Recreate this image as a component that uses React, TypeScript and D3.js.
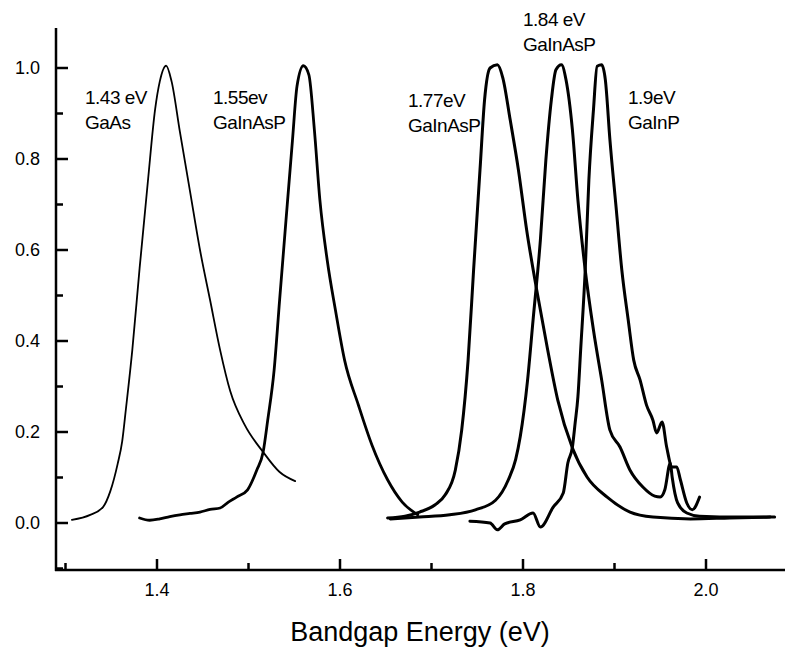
import React from "react";
import * as d3 from "d3";

// ---- Data ----
const gaasE = [1.307, 1.327, 1.341, 1.349, 1.357, 1.362, 1.366, 1.373, 1.381, 1.39, 1.398, 1.403, 1.41, 1.416, 1.425, 1.436, 1.447, 1.458, 1.469, 1.48, 1.496, 1.516, 1.534, 1.551];
const gaasI = [0.007, 0.018, 0.035, 0.07, 0.13, 0.18, 0.25, 0.38, 0.56, 0.75, 0.91, 0.97, 1.005, 0.97, 0.86, 0.73, 0.6, 0.49, 0.38, 0.29, 0.215, 0.156, 0.112, 0.092];

const g155E = [1.381, 1.392, 1.403, 1.414, 1.425, 1.436, 1.447, 1.458, 1.469, 1.478, 1.487, 1.499, 1.509, 1.516, 1.521, 1.528, 1.534, 1.541, 1.548, 1.553, 1.56, 1.566, 1.572, 1.578, 1.586, 1.595, 1.605, 1.62, 1.635, 1.652, 1.668, 1.685];
const g155I = [0.011, 0.006, 0.009, 0.014, 0.018, 0.021, 0.024, 0.03, 0.033, 0.046, 0.057, 0.073, 0.116, 0.156, 0.226, 0.336, 0.49, 0.666, 0.84, 0.96, 1.005, 0.985, 0.864, 0.71, 0.578, 0.468, 0.358, 0.26, 0.171, 0.095, 0.046, 0.018];

const g177E = [1.652, 1.671, 1.687, 1.704, 1.715, 1.726, 1.733, 1.74, 1.746, 1.753, 1.758, 1.764, 1.772, 1.778, 1.786, 1.795, 1.804, 1.815, 1.827, 1.838, 1.854, 1.87, 1.892, 1.917, 1.942, 1.983, 2.026, 2.07];
const g177I = [0.011, 0.015, 0.024, 0.04, 0.062, 0.116, 0.204, 0.358, 0.556, 0.776, 0.93, 1.0, 1.007, 0.978, 0.886, 0.776, 0.644, 0.512, 0.38, 0.27, 0.165, 0.101, 0.057, 0.024, 0.013, 0.009, 0.011, 0.013];

const g184E = [1.655, 1.687, 1.72, 1.748, 1.77, 1.784, 1.792, 1.797, 1.805, 1.811, 1.819, 1.825, 1.831, 1.836, 1.842, 1.847, 1.854, 1.86, 1.868, 1.877, 1.886, 1.895, 1.906, 1.917, 1.931, 1.944, 1.95, 1.955, 1.961, 1.963, 1.969, 1.979, 1.993, 2.037, 2.075];
const g184I = [0.009, 0.013, 0.018, 0.029, 0.05, 0.095, 0.14, 0.19, 0.314, 0.446, 0.622, 0.798, 0.93, 0.996, 1.007, 0.974, 0.864, 0.71, 0.556, 0.424, 0.314, 0.204, 0.167, 0.116, 0.079, 0.059, 0.057, 0.073, 0.132, 0.101, 0.044, 0.022, 0.015, 0.013, 0.013];

const g190E = [1.742, 1.764, 1.772, 1.78, 1.797, 1.811, 1.819, 1.833, 1.844, 1.849, 1.854, 1.857, 1.86, 1.863, 1.868, 1.872, 1.877, 1.881, 1.886, 1.89, 1.895, 1.902, 1.908, 1.915, 1.921, 1.928, 1.935, 1.942, 1.946, 1.952, 1.957, 1.963, 1.968, 1.972, 1.979, 1.985, 1.993];
const g190I = [0.004, 0.0, -0.015, -0.002, 0.007, 0.022, -0.009, 0.035, 0.066, 0.132, 0.167, 0.22, 0.277, 0.38, 0.556, 0.754, 0.908, 1.004, 1.007, 0.974, 0.842, 0.688, 0.556, 0.446, 0.358, 0.314, 0.259, 0.226, 0.198, 0.222, 0.167, 0.123, 0.123, 0.095, 0.044, 0.029, 0.057];

const xMajorTicks = [1.4, 1.6, 1.8, 2.0];
const xMinorTicks = [1.3, 1.5, 1.7, 1.9];
const yMajorTicks = [0.0, 0.2, 0.4, 0.6, 0.8, 1.0];
const yMinorTicks = [-0.1, 0.1, 0.3, 0.5, 0.7, 0.9];

const annotations = [
  { e: "1.43 eV", m: "GaAs" },
  { e: "1.55ev", m: "GaInAsP" },
  { e: "1.77eV", m: "GaInAsP" },
  { e: "1.84 eV", m: "GaInAsP" },
  { e: "1.9eV", m: "GaInP" },
];
const annotationPos = [
  [85, 104],
  [213, 104],
  [408, 107],
  [523, 26],
  [628, 104],
];

const xTitle = "Bandgap Energy (eV)";

export default function App() {
  const W = 791, H = 650;
  const x = d3.scaleLinear().domain([1.4, 2.0]).range([157, 706]);
  const y = d3.scaleLinear().domain([0, 1]).range([523, 68]);
  const axisX = 56;
  const axisY = 570;
  const font = "'Liberation Sans', Arial, Helvetica, sans-serif";

  const line = d3.line<[number, number]>().x(d => x(d[0])).y(d => y(d[1])).curve(d3.curveMonotoneX);
  const mk = (E: number[], I: number[]) => line(E.map((e, i) => [e, I[i]] as [number, number])) || "";

  const series = [
    { d: mk(gaasE, gaasI), w: 1.8 },
    { d: mk(g155E, g155I), w: 2.8 },
    { d: mk(g177E, g177I), w: 3 },
    { d: mk(g184E, g184I), w: 3 },
    { d: mk(g190E, g190I), w: 3 },
  ];

  return (
    <svg width={W} height={H} style={{ position: "absolute", left: 0, top: 0, background: "#fff" }} fontFamily={font}>
      <rect x={0} y={0} width={W} height={H} fill="#fff" />
      {/* axes */}
      <line x1={axisX} y1={28} x2={axisX} y2={axisY + 1} stroke="#000" strokeWidth={2.5} />
      <line x1={axisX - 1} y1={axisY} x2={785} y2={axisY} stroke="#000" strokeWidth={2.5} />
      {yMajorTicks.map(t => (
        <g key={"ym" + t}>
          <line x1={axisX} x2={axisX + 12} y1={y(t)} y2={y(t)} stroke="#000" strokeWidth={2.5} />
          <text x={40} y={y(t) + 6} textAnchor="end" fontSize={18} fill="#000">{t.toFixed(1)}</text>
        </g>
      ))}
      {yMinorTicks.map(t => (
        <line key={"yn" + t} x1={axisX} x2={axisX + 7} y1={y(t)} y2={y(t)} stroke="#000" strokeWidth={2.5} />
      ))}
      {xMajorTicks.map(t => (
        <g key={"xm" + t}>
          <line x1={x(t)} x2={x(t)} y1={axisY} y2={axisY - 11} stroke="#000" strokeWidth={2.5} />
          <text x={x(t)} y={596} textAnchor="middle" fontSize={18} fill="#000">{t.toFixed(1)}</text>
        </g>
      ))}
      {xMinorTicks.map(t => (
        <line key={"xn" + t} x1={x(t)} x2={x(t)} y1={axisY} y2={axisY - 7} stroke="#000" strokeWidth={2.5} />
      ))}
      <text x={420} y={641} textAnchor="middle" fontSize={27} fill="#000">{xTitle}</text>
      {/* spectra */}
      {series.map((s, i) => (
        <path key={i} d={s.d} fill="none" stroke="#000" strokeWidth={s.w} strokeLinejoin="round" strokeLinecap="round" />
      ))}
      {/* annotations */}
      {annotations.map((a, i) => (
        <g key={"a" + i} fontSize={19} fill="#000" letterSpacing={-0.5}>
          <text x={annotationPos[i][0]} y={annotationPos[i][1]}>{a.e}</text>
          <text x={annotationPos[i][0]} y={annotationPos[i][1] + 25}>{a.m}</text>
        </g>
      ))}
    </svg>
  );
}
